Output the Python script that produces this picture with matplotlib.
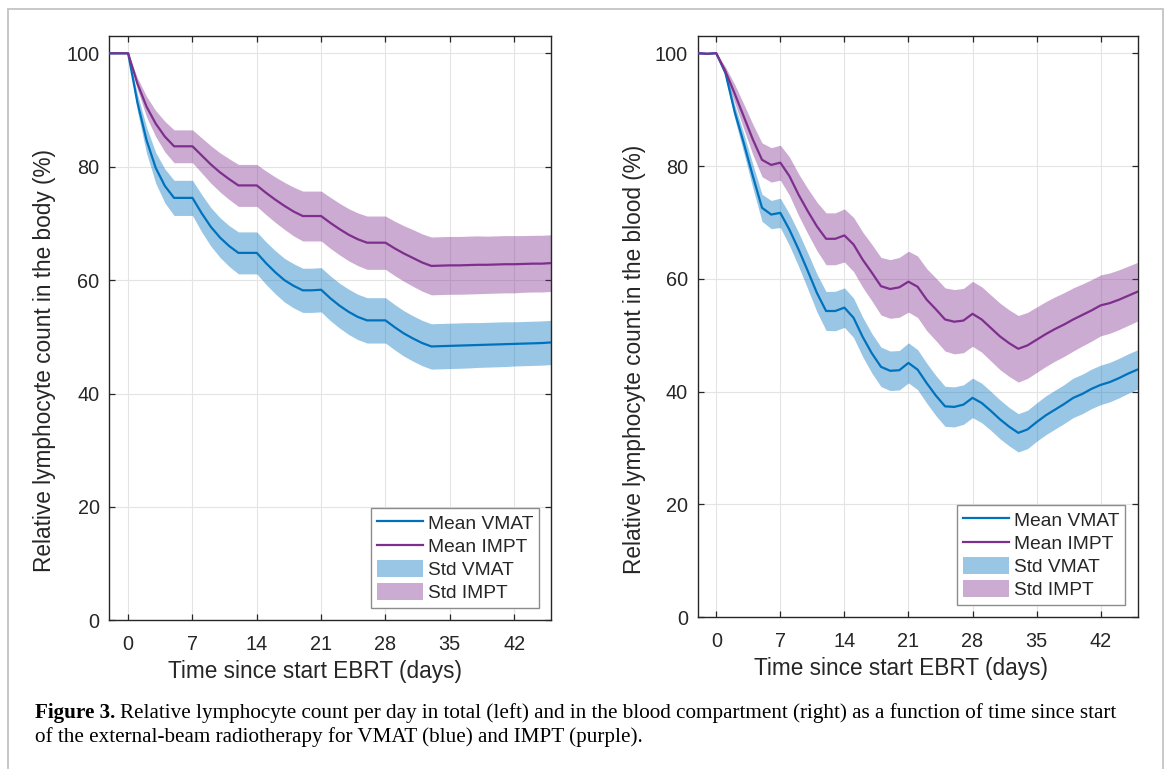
import matplotlib.pyplot as plt
from matplotlib.patches import Rectangle
import numpy as np

days = np.arange(-2, 47)

# left panel: lymphocytes in the whole body (%)
body_vmat_mean = [100, 100, 100,
                  91.4, 84.7, 79.8, 76.6, 74.5, 74.5,
                  74.5, 71.8, 69.4, 67.5, 66.0, 64.8, 64.8,
                  64.8, 63.0, 61.4, 60.0, 59.0, 58.2, 58.2,
                  58.3, 56.8, 55.5, 54.4, 53.5, 52.9, 52.9,
                  52.9, 51.7, 50.6, 49.7, 48.9, 48.3,
                  48.35, 48.4, 48.45, 48.5, 48.55, 48.6, 48.65, 48.7, 48.75, 48.8, 48.85, 48.9, 49.0]
body_impt_mean = [100, 100, 100,
                  94.7, 90.6, 87.6, 85.3, 83.6, 83.6,
                  83.6, 82.0, 80.4, 79.0, 77.8, 76.7, 76.7,
                  76.7, 75.4, 74.2, 73.1, 72.1, 71.3, 71.3,
                  71.3, 70.1, 69.0, 68.0, 67.2, 66.6, 66.6,
                  66.6, 65.6, 64.7, 63.9, 63.1, 62.5,
                  62.55, 62.6, 62.6, 62.65, 62.7, 62.7, 62.75, 62.8, 62.8, 62.85, 62.9, 62.9, 63.0]
body_vmat_std = [0, 0, 0,
                 1.5, 2.3, 2.7, 3.0, 3.1, 3.1,
                 3.1, 3.3, 3.4, 3.5, 3.6, 3.7, 3.7,
                 3.7, 3.75, 3.8, 3.85, 3.9, 3.9, 3.9,
                 3.9, 3.95, 3.95, 4.0, 4.0, 4.0, 4.0,
                 4.0, 4.0, 4.0, 4.0, 4.0, 4.0,
                 4.0, 4.0, 4.0, 4.0, 3.95, 3.95, 3.95, 3.95, 3.9, 3.9, 3.9, 3.9, 3.9]
body_impt_std = [0, 0, 0,
                 1.0, 1.8, 2.3, 2.7, 2.9, 2.9,
                 2.9, 3.1, 3.3, 3.45, 3.6, 3.7, 3.7,
                 3.7, 3.85, 4.0, 4.15, 4.3, 4.4, 4.4,
                 4.4, 4.5, 4.55, 4.6, 4.65, 4.7, 4.7,
                 4.7, 4.8, 4.9, 5.0, 5.05, 5.1,
                 5.1, 5.1, 5.1, 5.1, 5.1, 5.05, 5.05, 5.05, 5.05, 5.0, 5.0, 5.0, 5.0]

# right panel: lymphocytes in the blood (%)
blood_vmat_mean = [100, 99.9, 100,
                   96.5, 89.7, 84.1, 78.2, 72.6, 71.4,
                   71.7, 68.7, 65.2, 61.4, 57.5, 54.3, 54.3,
                   54.9, 53.1, 49.7, 46.8, 44.4, 43.7, 43.8,
                   45.1, 43.9, 41.5, 39.3, 37.4, 37.3, 37.7,
                   38.9, 38.0, 36.6, 35.1, 33.8, 32.7,
                   33.3, 34.6, 35.8, 36.8, 37.8, 38.9, 39.6, 40.5, 41.2, 41.7, 42.4, 43.2, 43.9]
blood_impt_mean = [100, 99.9, 100,
                   96.8, 92.9, 88.8, 84.7, 81.1, 80.2,
                   80.6, 78.2, 74.9, 72.0, 69.3, 67.1, 67.1,
                   67.7, 66.1, 63.4, 61.1, 58.7, 58.2, 58.5,
                   59.5, 58.6, 56.3, 54.6, 52.8, 52.4, 52.6,
                   53.8, 52.8, 51.3, 49.8, 48.6, 47.6,
                   48.2, 49.2, 50.2, 51.1, 51.9, 52.8, 53.6, 54.4, 55.3, 55.7, 56.3, 57.0, 57.7]
blood_vmat_std = [0, 0, 0,
                  0.6, 1.2, 1.7, 2.1, 2.4, 2.5,
                  2.6, 2.8, 3.0, 3.2, 3.35, 3.45, 3.5,
                  3.5, 3.5, 3.5, 3.5, 3.5, 3.5, 3.5,
                  3.55, 3.55, 3.55, 3.55, 3.55, 3.55, 3.5,
                  3.5, 3.5, 3.45, 3.45, 3.4, 3.4,
                  3.4, 3.4, 3.45, 3.45, 3.45, 3.5, 3.5, 3.5, 3.5, 3.5, 3.5, 3.5, 3.5]
blood_impt_std = [0, 0, 0,
                  0.8, 1.6, 2.2, 2.7, 3.0, 3.05,
                  3.1, 3.4, 3.7, 4.0, 4.3, 4.6, 4.6,
                  4.7, 4.8, 4.9, 5.0, 5.1, 5.2, 5.3,
                  5.4, 5.45, 5.5, 5.55, 5.6, 5.7, 5.7,
                  5.75, 5.8, 5.85, 5.9, 5.9, 5.9,
                  5.85, 5.8, 5.75, 5.7, 5.65, 5.6, 5.5, 5.45, 5.4, 5.35, 5.3, 5.25, 5.2]

xticks = [0, 7, 14, 21, 28, 35, 42]
yticks = [0, 20, 40, 60, 80, 100]
labels = ['Mean VMAT', 'Mean IMPT', 'Std VMAT', 'Std IMPT']

BLUE = '#0072BD'
PURPLE = '#7E2F8E'
INK = '#262626'

plt.rcParams['font.family'] = ['Liberation Sans', 'DejaVu Sans']

fig = plt.figure(figsize=(11.67, 7.69), dpi=100)
W, H = 1167, 769


def px(x0, y0, x1, y1):
    # pixel box (top-left origin) -> figure fraction rect
    return [x0 / W, 1 - y1 / H, (x1 - x0) / W, (y1 - y0) / H]


ax1 = fig.add_axes(px(109.3, 36.3, 551.3, 620.3))
ax2 = fig.add_axes(px(697.5, 36.3, 1137.7, 617.3))

panels = [
    (ax1, body_vmat_mean, body_impt_mean, body_vmat_std, body_impt_std,
     'Relative lymphocyte count in the body (%)'),
    (ax2, blood_vmat_mean, blood_impt_mean, blood_vmat_std, blood_impt_std,
     'Relative lymphocyte count in the blood (%)'),
]

for ax, vm, im, vs, is_, ylab in panels:
    vm, im, vs, is_ = map(np.asarray, (vm, im, vs, is_))
    fv = ax.fill_between(days, vm - vs, vm + vs, color=BLUE, alpha=0.4, lw=0, zorder=2)
    fi = ax.fill_between(days, im - is_, im + is_, color=PURPLE, alpha=0.4, lw=0, zorder=2)
    lv, = ax.plot(days, vm, color=BLUE, lw=1.6, zorder=3)
    li, = ax.plot(days, im, color=PURPLE, lw=1.6, zorder=3)

    ax.set_xlim(-2.05, 46.05)
    ax.set_ylim(0, 103)
    ax.set_xticks(xticks)
    ax.set_yticks(yticks)
    ax.grid(True, color='#e4e4e4', lw=0.8, zorder=0)
    ax.set_axisbelow(True)
    ax.tick_params(direction='in', length=4.5, width=0.9, colors=INK,
                   labelsize=14.3, top=True, right=True)
    ax.tick_params(axis='x', pad=10.5)
    ax.tick_params(axis='y', pad=7)
    for s in ax.spines.values():
        s.set_color(INK)
        s.set_linewidth(1.0)

    leg = ax.legend([lv, li, fv, fi], labels, loc='lower right', fontsize=13.8,
                    fancybox=False, framealpha=1, edgecolor='#8c8c8c',
                    handlelength=2.4, handleheight=0.95, handletextpad=0.25,
                    labelspacing=0.22, borderpad=0.3, borderaxespad=0.65)
    leg.get_frame().set_linewidth(1.0)
    for t in leg.get_texts():
        t.set_color(INK)

# axis labels placed as in the reference
fig.text(315 / W, 1 - 677.7 / H, 'Time since start EBRT (days)', fontsize=16.3,
         color=INK, ha='center', va='baseline')
fig.text(901.5 / W, 1 - 674.5 / H, 'Time since start EBRT (days)', fontsize=16.3,
         color=INK, ha='center', va='baseline')
fig.text(45 / W, 1 - 360 / H, panels[0][5], fontsize=16.3, color=INK,
         rotation=90, ha='center', va='center')
fig.text(634 / W, 1 - 359.5 / H, panels[1][5], fontsize=16.3, color=INK,
         rotation=90, ha='center', va='center')

# caption
cap_font = ['Liberation Serif', 'DejaVu Serif']
cap_size = 15.2
t_bold = fig.text(35 / W, 1 - 718.3 / H, 'Figure 3.', fontsize=cap_size, fontweight='bold',
                  family=cap_font, ha='left', va='baseline')
fig.canvas.draw()
bb = t_bold.get_window_extent()
fig.text((bb.x1 + 5) / W, 1 - 718.3 / H,
         'Relative lymphocyte count per day in total (left) and in the blood compartment '
         '(right) as a function of time since start',
         fontsize=cap_size, family=cap_font, ha='left', va='baseline')
fig.text(35 / W, 1 - 742.3 / H,
         'of the external-beam radiotherapy for VMAT (blue) and IMPT (purple).',
         fontsize=cap_size, family=cap_font, ha='left', va='baseline')

# light frame around the figure
fig.add_artist(Rectangle((7.5 / W, -0.02), (1163 - 7.5) / W, 1 - 9 / H + 0.02,
                         transform=fig.transFigure, fill=False,
                         edgecolor='#c4c4c4', lw=1.3))

fig.savefig('out.png', dpi=100)
